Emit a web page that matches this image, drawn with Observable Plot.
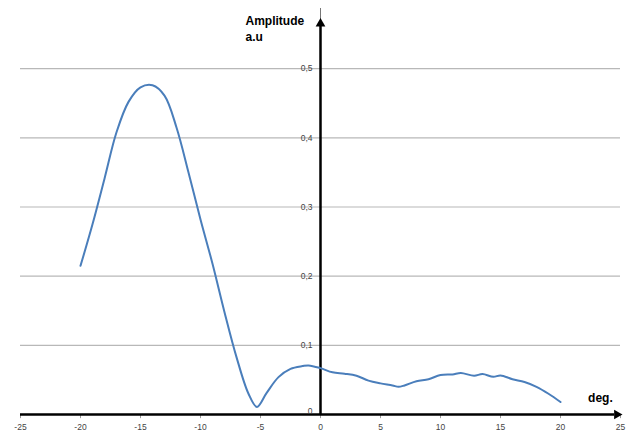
<!DOCTYPE html>
<html><head><meta charset="utf-8">
<script src="https://cdn.jsdelivr.net/npm/d3@7"></script>
<script src="https://cdn.jsdelivr.net/npm/@observablehq/plot@0.6"></script>
<style>body{margin:0;background:#fff;font-family:Arial,"Liberation Sans",sans-serif;}</style>
</head><body><div id="chart"></div>
<script>
const angle = [-20,-19,-18,-17,-16,-15,-14,-13,-12,-11,-10,-9,-8,-7,-6,-5.3,-4.5,-3.5,-2.5,-1.5,-1,0,1,2,3,4,5,6,6.5,7,8,9,10,11,11.7,12.8,13.5,14.4,15,16,17,18,19,20];
const amplitude = [0.215,0.275,0.341,0.408,0.452,0.473,0.476,0.461,0.415,0.350,0.282,0.218,0.148,0.083,0.030,0.011,0.031,0.054,0.066,0.070,0.071,0.067,0.061,0.059,0.056,0.049,0.045,0.042,0.040,0.042,0.048,0.051,0.057,0.058,0.060,0.056,0.0585,0.0545,0.0565,0.051,0.047,0.040,0.030,0.018];
const xTicks = [-25,-20,-15,-10,-5,0,5,10,15,20,25];
const yTicks = [0.1,0.2,0.3,0.4,0.5];
const yTickLabels = ["0,1","0,2","0,3","0,4","0,5"];
const xDomain = [-25, 25];
const yDomain = [0, 0.587];

const data = angle.map((a, i) => ({angle: a, amplitude: amplitude[i]}));
const yLab = yTicks.map((v, i) => ({v, label: yTickLabels[i]}));

const chart = Plot.plot({
  width: 627,
  height: 431,
  marginLeft: 20,
  marginRight: 7,
  marginTop: 8,
  marginBottom: 17,
  x: {domain: xDomain, axis: null},
  y: {domain: yDomain, axis: null},
  style: {fontFamily: "Arial, 'Liberation Sans', sans-serif", background: "#fff"},
  marks: [
    Plot.ruleY(yTicks, {x1: xDomain[0], x2: xDomain[1], stroke: "#b8b8b8", strokeWidth: 1.2}),
    Plot.ruleX(xTicks, {y1: 0, y2: -0.006, stroke: "#999", strokeWidth: 1}),
    Plot.ruleX([0], {y1: 0, y2: yDomain[1], stroke: "#777", strokeWidth: 1}),
    Plot.ruleX([0], {y1: 0, y2: 0.565, stroke: "#000", strokeWidth: 2.5}),
    Plot.ruleY([0], {x1: xDomain[0], x2: 24.5, stroke: "#000", strokeWidth: 2.5}),
    Plot.dot([0], {x: d => 0, y: d => 0.565, symbol: "triangle", r: 3.6, fill: "#000", stroke: "none"}),
    Plot.dot([0], {x: d => xDomain[1] - 0.3, y: d => 0, symbol: "triangle", r: 3.6, fill: "#000", stroke: "none", rotate: 90}),
    Plot.line(data, {x: "angle", y: "amplitude", curve: "catmull-rom", stroke: "#4a7ebb", strokeWidth: 2}),
    Plot.text(xTicks, {x: d => d, y: d => 0, text: d => String(d), dy: 13, fontSize: 8.5, fill: "#444"}),
    Plot.text(yLab, {x: d => 0, y: "v", text: "label", dx: -8, textAnchor: "end", fontSize: 8.5, fill: "#444"}),
    Plot.text(["0"], {x: d => 0, y: d => 0, text: d => d, dx: -8, dy: -3, textAnchor: "end", fontSize: 8.5, fill: "#444"}),
    Plot.text(["Amplitude\na.u"], {x: d => -6.25, y: d => 0.58, text: d => d, textAnchor: "start", lineAnchor: "top", lineHeight: 1.35, fontSize: 12, fontWeight: "bold", fill: "#000"}),
    Plot.text(["deg."], {x: d => 22.3, y: d => 0.024, text: d => d, textAnchor: "start", fontSize: 12, fontWeight: "bold", fill: "#000"})
  ]
});
document.getElementById("chart").appendChild(chart);
</script>
</body></html>
